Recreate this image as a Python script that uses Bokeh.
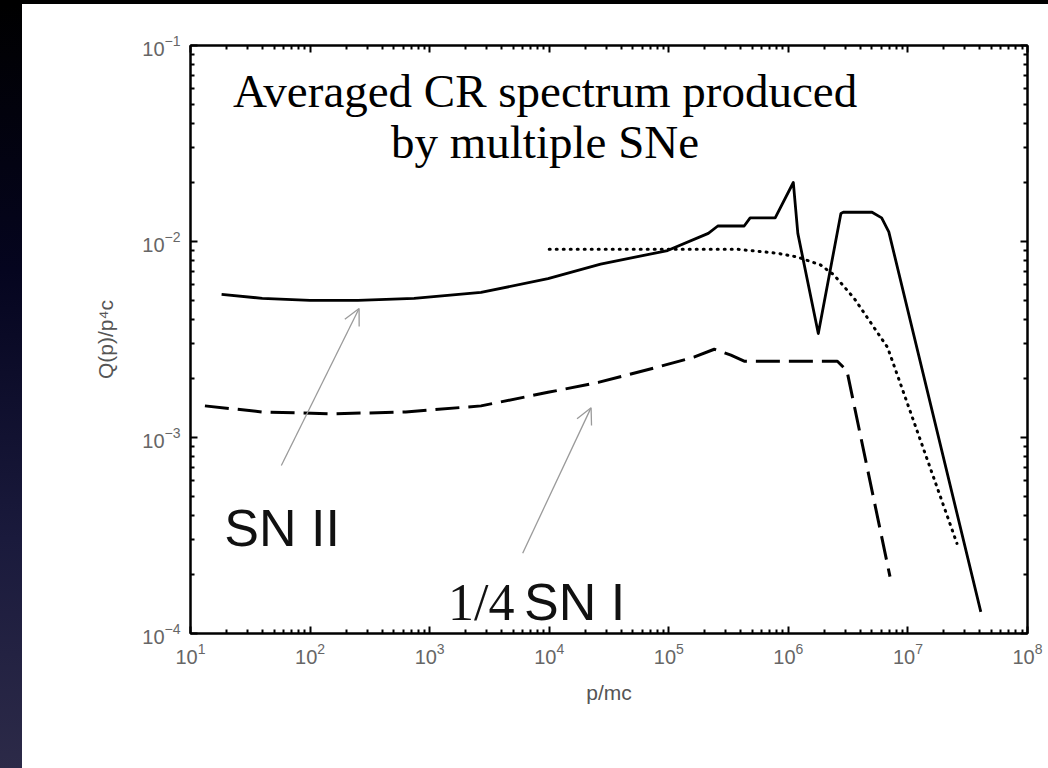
from bokeh.plotting import figure
from bokeh.models import (LinearAxis, FixedTicker, Label, Arrow, OpenHead, Div,
                          CustomJSTickFormatter)
from bokeh.layouts import column, row
from bokeh.embed import file_html
from bokeh.resources import INLINE

# ---------------- data ----------------
# SN II : solid curve
sn2_p = [18.2, 39.8, 100, 251, 741, 2690, 9770, 26900, 97700, 214000, 257000,
         427000, 479000, 776000, 1.10e6, 1.20e6, 1.78e6, 2.75e6, 2.88e6, 5.01e6,
         6.03e6, 6.92e6, 4.07e7]
sn2_q = [5.37e-3, 5.13e-3, 5.01e-3, 5.01e-3, 5.13e-3, 5.50e-3, 6.46e-3, 7.67e-3,
         8.99e-3, 1.10e-2, 1.20e-2, 1.20e-2, 1.32e-2, 1.32e-2, 2.0e-2, 1.10e-2,
         3.39e-3, 1.39e-2, 1.41e-2, 1.41e-2, 1.32e-2, 1.12e-2, 1.29e-4]
# 1/4 SN I : dashed curve
sn1_p = [13.2, 39.8, 151, 631, 2690, 9770, 25700, 81300, 162000, 240000, 331000,
         427000, 2.57e6, 3.09e6, 7.08e6]
sn1_q = [1.45e-3, 1.35e-3, 1.32e-3, 1.35e-3, 1.45e-3, 1.70e-3, 1.91e-3, 2.29e-3,
         2.57e-3, 2.82e-3, 2.63e-3, 2.45e-3, 2.45e-3, 2.19e-3, 1.95e-4]
# dotted curve
dot_p = [1e4, 380000, 813000, 1.20e6, 1.86e6, 2.40e6, 3.55e6, 6.76e6, 2.57e7]
dot_q = [9.12e-3, 9.12e-3, 8.71e-3, 8.32e-3, 7.59e-3, 6.76e-3, 5.13e-3, 2.88e-3, 2.88e-4]

x_ticks = [1e1, 1e2, 1e3, 1e4, 1e5, 1e6, 1e7, 1e8]
y_ticks = [1e-4, 1e-3, 1e-2, 1e-1]

title_lines = ["Averaged CR spectrum produced", "by multiple SNe"]
x_label = "p/mc"
y_label = "Q(p)/p\u2074c"


def minors(majors):
    out = []
    for m in majors[:-1]:
        out += [m * k for k in range(2, 10)]
    return out


# ---------------- figure ----------------
p = figure(width=1026, height=764, x_axis_type="log", y_axis_type="log",
           x_range=(1e1, 1e8), y_range=(1e-4, 1e-1),
           output_backend="svg", toolbar_location=None,
           min_border_left=168, min_border_right=21, min_border_top=41,
           min_border_bottom=135, margin=0)
p.grid.visible = False
p.outline_line_color = "black"
p.outline_line_width = 2
p.background_fill_color = "white"
p.border_fill_color = "white"

xt = FixedTicker(ticks=x_ticks, minor_ticks=minors(x_ticks))
yt = FixedTicker(ticks=y_ticks, minor_ticks=minors(y_ticks))


def style_axis(ax):
    ax.axis_line_color = "black"
    ax.axis_line_width = 2
    ax.major_tick_in = 7
    ax.major_tick_out = 0
    ax.minor_tick_in = 4
    ax.minor_tick_out = 0
    ax.major_tick_line_color = "black"
    ax.minor_tick_line_color = "black"
    ax.major_tick_line_width = 2
    ax.minor_tick_line_width = 2
    ax.major_label_text_font = "Liberation Sans"
    ax.major_label_text_color = "#666666"
    ax.major_label_text_font_size = "20px"
    ax.axis_label_text_font = "Liberation Sans"
    ax.axis_label_text_font_style = "normal"
    ax.axis_label_text_color = "#555555"
    ax.axis_label_text_font_size = "21px"


p.xaxis.ticker = xt
p.yaxis.ticker = yt
style_axis(p.xaxis[0])
style_axis(p.yaxis[0])
p.xaxis.axis_label = x_label
p.yaxis.axis_label = y_label
p.xaxis.major_label_standoff = 9
p.yaxis.major_label_standoff = 10
p.xaxis.axis_label_standoff = 14
p.yaxis.axis_label_standoff = 22

blank = CustomJSTickFormatter(code="return ''")
top = LinearAxis(ticker=xt, formatter=blank)
right = LinearAxis(ticker=yt, formatter=blank)
style_axis(top)
style_axis(right)
top.major_label_standoff = 0
right.major_label_standoff = 0
p.add_layout(top, "above")
p.add_layout(right, "right")

# curves
p.line(sn2_p, sn2_q, line_color="black", line_width=2.8, line_join="round")
p.line(sn1_p, sn1_q, line_color="black", line_width=3, line_dash="24 9")
p.line(dot_p, dot_q, line_color="black", line_width=3, line_dash="1 6",
       line_cap="round")

# text annotations
p.add_layout(Label(x=9230, y=0.0589, text=title_lines[0], text_align="center",
                   text_baseline="alphabetic", text_font="Liberation Serif",
                   text_font_size="47px", text_color="black"))
p.add_layout(Label(x=9230, y=0.0320, text=title_lines[1], text_align="center",
                   text_baseline="alphabetic", text_font="Liberation Serif",
                   text_font_size="47px", text_color="black"))
p.add_layout(Label(x=19.2, y=3.47e-4, text="SN II", text_align="left",
                   text_baseline="alphabetic", text_font="Liberation Sans",
                   text_font_size="52px", text_color="#111111"))
p.add_layout(Label(x=1426, y=1.44e-4, text="1/4", text_align="left",
                   text_baseline="alphabetic", text_font="Liberation Serif",
                   text_font_size="52px", text_color="#111111"))
p.add_layout(Label(x=6150, y=1.44e-4, text="SN I", text_align="left",
                   text_baseline="alphabetic", text_font="Liberation Sans",
                   text_font_size="52px", text_color="#111111"))

# arrows
arrow_col = "#9a9a9a"
p.add_layout(Arrow(x_start=57.5, y_start=7.2e-4, x_end=257, y_end=4.55e-3,
                   line_color=arrow_col, line_width=1.3,
                   end=OpenHead(size=16, line_color=arrow_col, line_width=1.3)))
p.add_layout(Arrow(x_start=6000, y_start=2.57e-4, x_end=22400, y_end=1.42e-3,
                   line_color=arrow_col, line_width=1.3,
                   end=OpenHead(size=16, line_color=arrow_col, line_width=1.3)))

# page frame: dark strips like the slide background
top_bar = Div(width=1048, height=4, margin=0, styles={"background": "#000000"})
side_bar = Div(width=22, height=764, margin=0,
               styles={"background": "linear-gradient(180deg, #000000 0%, #05051f 35%, #1a1a3c 70%, #2c2a48 100%)"})
layout = column(top_bar, row(side_bar, p, spacing=0, margin=0), spacing=0, margin=0)

open("out.html", "w").write(file_html(layout, INLINE))
